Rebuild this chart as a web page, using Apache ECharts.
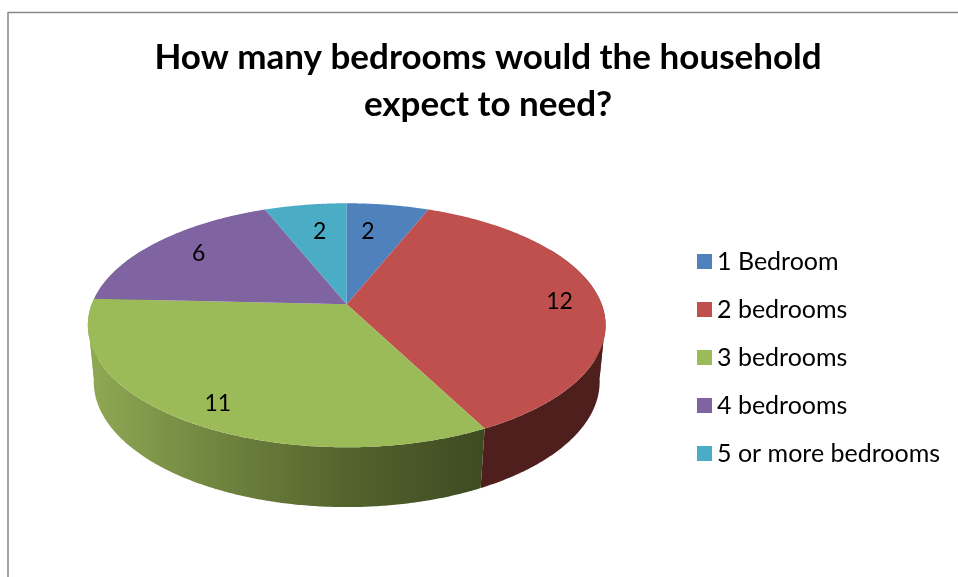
<!DOCTYPE html>
<html>
<head>
<meta charset="utf-8">
<style>html,body{margin:0;padding:0;background:#fff}#chart{width:958px;height:577px}</style>
<script src="https://cdn.jsdelivr.net/npm/echarts@6/dist/echarts.min.js"></script>
</head>
<body>
<div id="chart"></div>
<script>
// Survey answers
const categories = ['1 Bedroom', '2 bedrooms', '3 bedrooms', '4 bedrooms', '5 or more bedrooms'];
const households = [2, 12, 11, 6, 2];
const colors = ['#4f81bd', '#c0504d', '#9bbb59', '#8064a2', '#4bacc6'];
const titleText = 'How many bedrooms would the household\nexpect to need?';

// Perspective disc: top face and the smaller, further-away bottom face
const cx = 346.7;
const topFace = { y0: 304.3, rx: 255, ry: 118.4, k: 0.172 };
const baseFace = { y0: 361, rx: 249.5, ry: 122, k: 0.165 };
const total = households.reduce((a, b) => a + b, 0);

function project(face, deg, r) {
  const a = deg * Math.PI / 180;
  const u = r * Math.sin(a), v = r * Math.cos(a), w = 1 + face.k * v;
  return [cx + face.rx * u / w, face.y0 - face.ry * v / w];
}
function arc(face, from, to) {
  const pts = [];
  const n = Math.max(2, Math.ceil((to - from) * 2));
  for (let i = 0; i <= n; i++) pts.push(project(face, from + (to - from) * i / n, 1));
  return pts;
}

// Side wall fills: the only slices facing the viewer are red and green
const greenWall = {
  type: 'linear', x: 92, y: 0, x2: 485, y2: 0, global: true,
  colorStops: [
    { offset: 0, color: '#8ea853' },
    { offset: 0.27, color: '#748a42' },
    { offset: 0.64, color: '#55642e' },
    { offset: 1, color: '#3e4a21' }
  ]
};
const wallFills = [null, '#4e1f1d', greenWall, null, null];
// Walls wrap slightly past the disc's sides so the outline stays closed;
// the top faces hide the part that runs behind them.
const wallBackRight = 60, wallBackLeft = 300;
// Angles where the wall strip turns over; each run between them is a separate polygon
const wallTurns = [98, 262];
// Nudge of each value label from its slice's anchor
const labelNudge = [[-11, 5], [23, 1], [-13, 15], [-3, -3], [5, 5]];

const sweepStart = i => households.slice(0, i).reduce((a, b) => a + b, 0) / total * 360;

function wallPieces(from, to, fill) {
  const stops = [from].concat(wallTurns.filter(t => t > from && t < to), [to]);
  const pieces = [];
  for (let s = 0; s < stops.length - 1; s++) {
    pieces.push({
      type: 'polygon',
      shape: { points: arc(topFace, stops[s], stops[s + 1]).concat(arc(baseFace, stops[s], stops[s + 1]).reverse()) },
      style: { fill }
    });
  }
  return pieces;
}

function sliceRenderer(i) {
  return function (params, api) {
    const value = api.value(0);
    const a0 = sweepStart(i);
    const a1 = a0 + value / total * 360;
    const children = [];
    if (wallFills[i]) {
      const from = a0 < 90 ? wallBackRight : a0;
      const to = a1 > 250 ? wallBackLeft : a1;
      children.push(...wallPieces(from, to, wallFills[i]));
    }
    children.push({
      type: 'polygon',
      shape: { points: [project(topFace, 0, 0)].concat(arc(topFace, a0, a1)) },
      style: { fill: colors[i] }
    });
    const anchor = project(topFace, (a0 + a1) / 2, 0.75);
    children.push({
      type: 'text',
      z2: 10,
      style: {
        x: anchor[0] + labelNudge[i][0],
        y: anchor[1] + labelNudge[i][1],
        text: String(value),
        fill: '#000',
        font: '23px Lato',
        align: 'center',
        verticalAlign: 'middle'
      }
    });
    return { type: 'group', children };
  };
}

const chart = echarts.init(document.getElementById('chart'), null, { renderer: 'canvas' });
chart.setOption({
  animation: false,
  color: colors,
  title: {
    text: titleText,
    left: 488,
    top: 34,
    padding: 0,
    textAlign: 'center',
    textStyle: { fontFamily: 'Lato', fontWeight: 'bold', fontSize: 35, lineHeight: 47, color: '#000' }
  },
  legend: {
    data: categories,
    orient: 'vertical',
    left: 692,
    top: 244,
    icon: 'rect',
    itemWidth: 15,
    itemHeight: 15,
    itemGap: 23,
    selectedMode: false,
    textStyle: { fontFamily: 'Lato', fontSize: 25, color: '#000', lineHeight: 25 }
  },
  graphic: [
    { type: 'line', silent: true, shape: { x1: 8, y1: 12.5, x2: 958, y2: 12.5 }, style: { stroke: '#868686', lineWidth: 1.5 } },
    { type: 'line', silent: true, shape: { x1: 8, y1: 12, x2: 8, y2: 577 }, style: { stroke: '#868686', lineWidth: 1.5 } }
  ],
  series: categories.map((name, i) => ({
    type: 'custom',
    name,
    coordinateSystem: 'none',
    itemStyle: { color: colors[i] },
    silent: true,
    renderItem: sliceRenderer(i),
    data: [[households[i]]]
  }))
});
</script>
</body>
</html>
